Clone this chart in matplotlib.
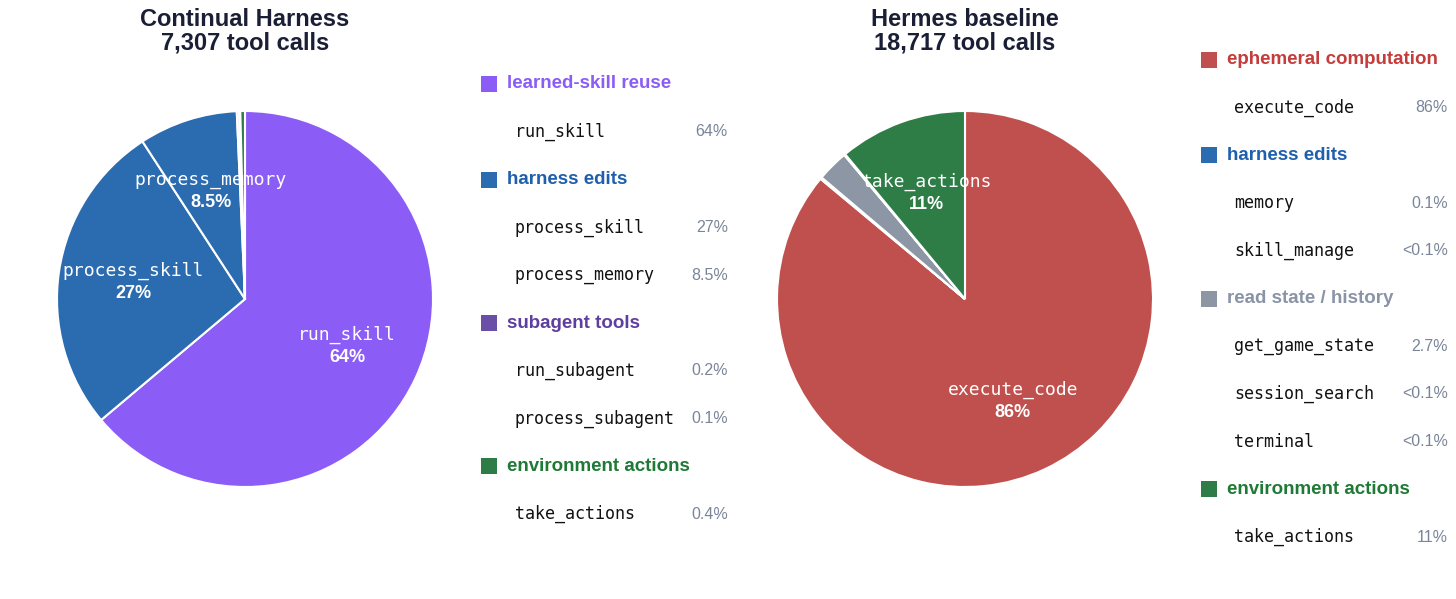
import matplotlib
matplotlib.use("Agg")
import matplotlib.pyplot as plt
from matplotlib.patches import Rectangle
import numpy as np

W, H = 1456, 599

# ---------------- data ----------------
left_title = "Continual Harness\n7,307 tool calls"
left_tools = ["run_skill", "process_skill", "process_memory", "run_subagent", "process_subagent", "take_actions"]
left_values = [64, 27, 8.5, 0.2, 0.1, 0.4]
left_pct_labels = ["64%", "27%", "8.5%", "0.2%", "0.1%", "0.4%"]
left_groups = ["learned-skill reuse", "harness edits", "harness edits", "subagent tools", "subagent tools", "environment actions"]
left_pie_labels = ["run_skill", "process_skill", "process_memory"]

right_title = "Hermes baseline\n18,717 tool calls"
right_tools = ["execute_code", "memory", "skill_manage", "get_game_state", "session_search", "terminal", "take_actions"]
right_values = [86, 0.1, 0.05, 2.7, 0.05, 0.05, 11]
right_pct_labels = ["86%", "0.1%", "<0.1%", "2.7%", "<0.1%", "<0.1%", "11%"]
right_groups = ["ephemeral computation", "harness edits", "harness edits", "read state / history",
                "read state / history", "read state / history", "environment actions"]
right_pie_labels = ["execute_code", "take_actions"]

group_fill = {
    "learned-skill reuse": "#8B5CF6",
    "harness edits": "#2B6CB0",
    "subagent tools": "#6B4FA6",
    "environment actions": "#2E7D46",
    "ephemeral computation": "#C0504D",
    "read state / history": "#8C96A4",
}
group_text = {
    "learned-skill reuse": "#8B5CF6",
    "harness edits": "#1F5FAD",
    "subagent tools": "#5E3FA0",
    "environment actions": "#1E7A35",
    "ephemeral computation": "#C43C3C",
    "read state / history": "#8A94A6",
}

SANS = ["Liberation Sans", "DejaVu Sans"]
MONO = ["DejaVu Sans Mono"]
TITLE_C = "#1A1F36"
PCT_C = "#7A8599"

fig = plt.figure(figsize=(W / 100, H / 100), dpi=100)
fig.patch.set_facecolor("white")


def fx(px):
    return px / W


def fy(py):
    return 1 - py / H


def draw_pie(cx, cy, r, values, groups, tools, pct_labels, pie_labels, title, title_cx):
    ax = fig.add_axes([fx(cx - r), fy(cy + r), (2 * r) / W, (2 * r) / H])
    colors = [group_fill[g] for g in groups]
    wedges, _ = ax.pie(values, colors=colors, startangle=90, counterclock=False,
                       wedgeprops=dict(edgecolor="white", linewidth=1.5))
    ax.set_xlim(-1, 1)
    ax.set_ylim(-1, 1)
    ax.set_aspect("equal")
    ax.axis("off")
    for w, t, p in zip(wedges, tools, pct_labels):
        if t not in pie_labels:
            continue
        ang = np.deg2rad((w.theta1 + w.theta2) / 2)
        x, y = 0.6 * np.cos(ang), 0.6 * np.sin(ang)
        ax.text(x, y + 0.06, t, ha="center", va="center", color="white",
                fontsize=13, family=MONO)
        ax.text(x, y - 0.06, p, ha="center", va="center", color="white",
                fontsize=13, family=SANS, fontweight="bold")
    fig.text(fx(title_cx), fy(31), title, ha="center", va="center", fontsize=17,
             fontweight="bold", family=SANS, color=TITLE_C, linespacing=1.05)


def draw_legend(x_sq, x_item, x_pct, y0, step, groups, tools, pct_labels):
    row = 0
    prev = None
    for g, t, p in zip(groups, tools, pct_labels):
        if g != prev:
            y = y0 + row * step
            fig.add_artist(Rectangle((fx(x_sq), fy(y + 8)), 16 / W, 16 / H,
                                     transform=fig.transFigure, facecolor=group_fill[g],
                                     edgecolor="none"))
            fig.text(fx(x_sq + 26), fy(y), g, ha="left", va="center", fontsize=13.5,
                     fontweight="bold", family=SANS, color=group_text[g])
            row += 1
            prev = g
        y = y0 + row * step
        fig.text(fx(x_item), fy(y), t, ha="left", va="center", fontsize=12,
                 family=MONO, color="#111111")
        fig.text(fx(x_pct), fy(y), p, ha="right", va="center", fontsize=11.5,
                 family=SANS, color=PCT_C)
        row += 1


draw_pie(245, 299, 188, left_values, left_groups, left_tools, left_pct_labels,
         left_pie_labels, left_title, 245)
draw_pie(965, 299, 188, right_values, right_groups, right_tools, right_pct_labels,
         right_pie_labels, right_title, 965)

draw_legend(481, 515, 728, 84, 47.8, left_groups, left_tools, left_pct_labels)
draw_legend(1201, 1234, 1448, 60, 47.7, right_groups, right_tools, right_pct_labels)

fig.savefig("out.png", dpi=100, facecolor="white")
